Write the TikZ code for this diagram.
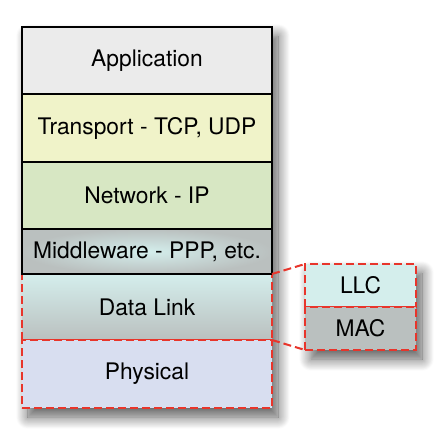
\documentclass[tikz,border=0pt]{standalone}
\usepackage{fontspec}
\setmainfont{TeX Gyre Heros}
\usetikzlibrary{positioning,shadows.blur,backgrounds}

\definecolor{appgray}{HTML}{EBEBEB}
\definecolor{transyellow}{HTML}{F0F3C9}
\definecolor{netgreen}{HTML}{D7E7C3}
\definecolor{lightcyan}{HTML}{D4EEEC}
\definecolor{midgray}{HTML}{BAC0BF}
\definecolor{physblue}{HTML}{D8DEF0}
\definecolor{dashred}{HTML}{E8352B}

\begin{document}
\begin{tikzpicture}[x=0.5pt,y=-0.5pt]
\useasboundingbox (0,0) rectangle (443,444);
\begin{scope}[
    layer/.style={rectangle, draw=black, line width=1pt, outer sep=0pt, inner sep=0pt,
        minimum width=125pt, font=\fontsize{11.4}{13}\selectfont},
    dlayer/.style={layer, draw=dashred, dash pattern=on 4pt off 2pt},
    sublayer/.style={dlayer, minimum width=55.5pt, minimum height=21.5pt},
    zoomline/.style={draw=dashred, line width=1pt, dash pattern=on 4pt off 2pt},
    shade/.style={fill=white, blur shadow={shadow xshift=3pt, shadow yshift=-4.5pt,
        shadow blur radius=6pt, shadow blur steps=14, shadow opacity=65}}
]
% Lower two layers, dashed
\node[dlayer, minimum height=33pt, top color=lightcyan, bottom color=midgray] (link) at (147,307) {Data Link};
\node[dlayer, minimum height=34pt, fill=physblue] (phys) at (147,374) {Physical};
% Upper layers
\node[layer, minimum height=33.5pt, fill=appgray] (app) at (147,60.5) {Application};
\node[layer, minimum height=34pt, fill=transyellow] (trans) at (147,128) {Transport - TCP, UDP};
\node[layer, minimum height=33.5pt, fill=netgreen] (net) at (147,195.5) {Network - IP};
\node[layer, minimum height=22.5pt, inner color=lightcyan, outer color=midgray] (mid) at (147,251.5) {Middleware - PPP, etc.};
% Data link split up
\node[sublayer, fill=lightcyan] (llc) at (360.5,285.5) {LLC};
\node[sublayer, fill=midgray, below=0pt of llc] (mac) {MAC};
\draw[zoomline] (link.north east) -- (llc.north west);
\draw[zoomline] (link.south east) -- (mac.south west);
% Shadows
\begin{scope}[on background layer]
\path[shade] (app.north west) rectangle (phys.south east);
\path[shade] (llc.north west) rectangle (mac.south east);
\end{scope}
\end{scope}
\end{tikzpicture}
\end{document}
